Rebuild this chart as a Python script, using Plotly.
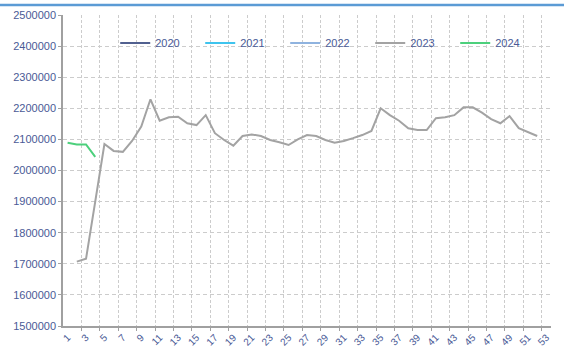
import plotly.graph_objects as go

# Weekly series, weeks 1..53
weeks = list(range(1, 54))

# Years with no reported values this season
s2020 = [None] * 53
s2021 = [None] * 53
s2022 = [None] * 53

s2023_weeks = list(range(2, 53))
s2023 = [
    1707000, 1716000, 1900000, 2085000, 2063000, 2060000, 2095000, 2141000,
    2229000, 2160000, 2171000, 2173000, 2152000, 2146000, 2178000, 2120000,
    2098000, 2080000, 2111000, 2116000, 2111000, 2098000, 2091000, 2082000,
    2100000, 2114000, 2111000, 2098000, 2089000, 2095000, 2104000, 2114000,
    2127000, 2200000, 2178000, 2160000, 2136000, 2130000, 2130000, 2168000,
    2171000, 2178000, 2203000, 2203000, 2186000, 2165000, 2152000, 2175000,
    2136000, 2123000, 2111000,
]

s2024_weeks = [1, 2, 3, 4]
s2024 = [2089000, 2084000, 2084000, 2044000]

tick_weeks = list(range(1, 54, 2))
tick_text = [str(w) for w in tick_weeks]
grid_pos = [w + 1.5 for w in range(1, 53, 2)]

y_ticks = list(range(1500000, 2500001, 100000))

text_color = "#4a5a96"
grid_color = "#cccccc"

fig = go.Figure()
series = [
    ("2020", weeks, s2020, "#51608f"),
    ("2021", weeks, s2021, "#3fc4ee"),
    ("2022", weeks, s2022, "#8fb3df"),
    ("2023", s2023_weeks, s2023, "#a3a3a3"),
    ("2024", s2024_weeks, s2024, "#4cd07c"),
]
for name, xs, ys, col in series:
    fig.add_trace(go.Scatter(
        x=xs, y=ys, name=name, mode="lines",
        line=dict(color=col, width=2),
    ))

fig.update_layout(
    width=564, height=355,
    margin=dict(l=63, r=13, t=15, b=29),
    paper_bgcolor="white", plot_bgcolor="white",
    font=dict(family="Liberation Sans, Arial, sans-serif", size=11, color=text_color),
    showlegend=True,
    legend=dict(
        orientation="h", x=0.107, y=0.91, xanchor="left", yanchor="middle",
        bgcolor="rgba(0,0,0,0)", font=dict(size=11, color=text_color),
        itemwidth=30, tracegroupgap=0, entrywidth=40,
    ),
    shapes=[dict(
        type="line", xref="paper", yref="paper",
        x0=-63 / 488, x1=1 + 13 / 488, y0=1 + 10 / 311, y1=1 + 10 / 311,
        line=dict(color="#5b9bd5", width=2.5),
    )],
)

fig.update_xaxes(
    range=[0.5, 53.5], tickmode="array", tickvals=tick_weeks, ticktext=tick_text,
    tickangle=-45, showgrid=False, zeroline=False,
    showline=True, linecolor="#a0a0a0", linewidth=1.5,
    ticks="", automargin=False, tickfont=dict(size=10, color=text_color),
    minor=dict(tickvals=grid_pos, showgrid=True, gridcolor=grid_color,
               griddash="3px,2px", gridwidth=1, ticks="outside", ticklen=3,
               tickcolor="#a0a0a0"),
)
fig.update_yaxes(
    range=[1500000, 2500000], tickmode="array", tickvals=y_ticks,
    ticktext=[str(v) for v in y_ticks],
    showgrid=True, gridcolor=grid_color, griddash="4px,3px", gridwidth=1,
    zeroline=False, showline=True, linecolor="#a0a0a0", linewidth=1.5,
    ticks="outside", ticklen=3, tickcolor="#a0a0a0", automargin=False,
    tickfont=dict(size=11, color=text_color),
)

fig.write_html("out.html")
